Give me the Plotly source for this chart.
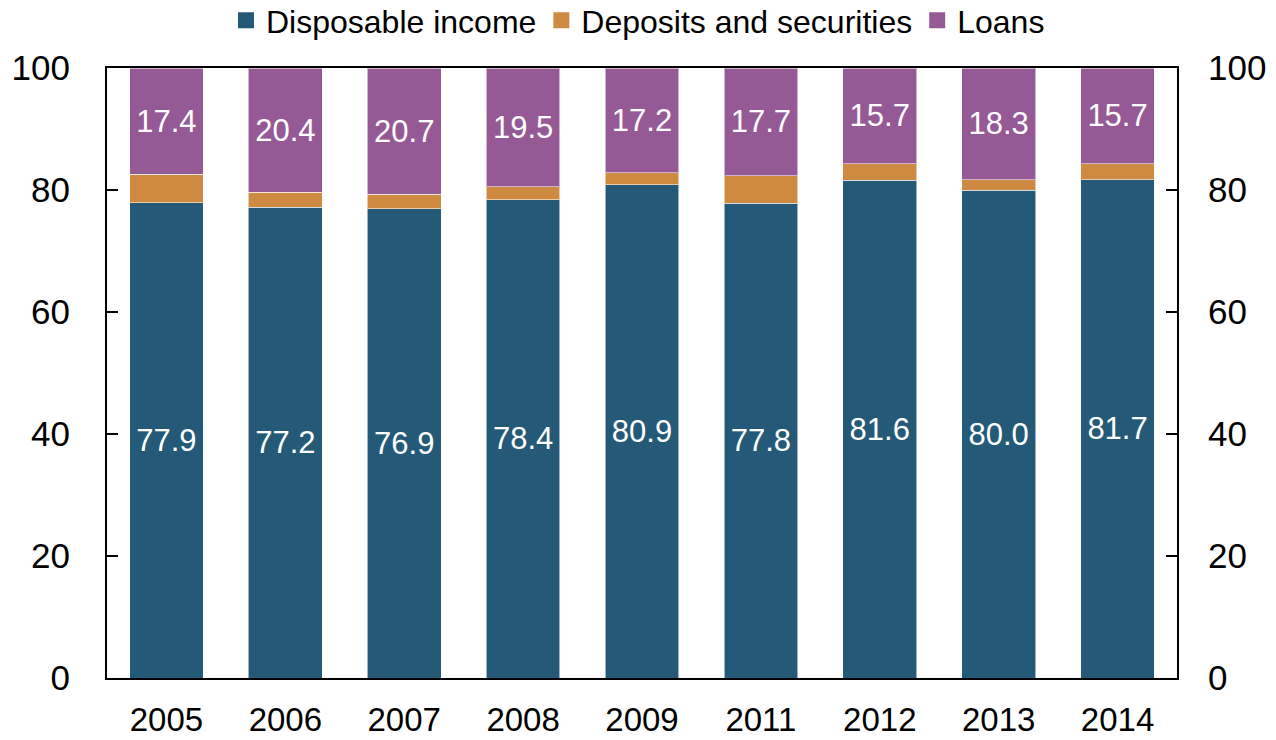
import plotly.graph_objects as go

years = ["2005", "2006", "2007", "2008", "2009", "2011", "2012", "2013", "2014"]
disposable_income = [77.9, 77.2, 76.9, 78.4, 80.9, 77.8, 81.6, 80.0, 81.7]
deposits_securities = [4.7, 2.4, 2.4, 2.1, 1.9, 4.5, 2.7, 1.7, 2.6]
loans = [17.4, 20.4, 20.7, 19.5, 17.2, 17.7, 15.7, 18.3, 15.7]
y_ticks = [0, 20, 40, 60, 80, 100]

FONT = "Liberation Sans, Arial, sans-serif"
C_INCOME = "#245a78"
C_DEPOSITS = "#cf8a42"
C_LOANS = "#955a96"
EDGE = dict(color="rgba(255,255,255,0.55)", width=1)
LABEL_FONT = dict(family=FONT, size=31, color="white")

series = [
    ("Disposable income", disposable_income, C_INCOME, True),
    ("Deposits and securities", deposits_securities, C_DEPOSITS, False),
    ("Loans", loans, C_LOANS, True),
]

fig = go.Figure()
for name, values, color, labelled in series:
    fig.add_trace(go.Bar(
        x=years, y=values, name=name, showlegend=False,
        marker=dict(color=color, line=EDGE),
        text=[f"{v:.1f}" for v in values] if labelled else None,
        textposition="inside", insidetextanchor="middle",
        textfont=LABEL_FONT, hoverinfo="skip",
    ))
# square legend keys (points sit below the visible range)
for name, values, color, _ in series:
    fig.add_trace(go.Scatter(
        x=[years[0]], y=[-50], name=name, mode="markers",
        marker=dict(symbol="square", size=18, color=color),
        cliponaxis=True, hoverinfo="skip",
    ))
# invisible companion trace so the right-hand axis is drawn
fig.add_trace(go.Scatter(
    x=years, y=[None] * len(years), yaxis="y2", showlegend=False,
    mode="markers", hoverinfo="skip",
))

axis_font = dict(family=FONT, size=35, color="black")
fig.update_layout(
    barmode="stack",
    bargap=0.38,
    width=1276, height=740,
    margin=dict(l=107, r=99, t=68, b=62, autoexpand=False),
    paper_bgcolor="white", plot_bgcolor="white",
    font=dict(family=FONT, color="black"),
    showlegend=True,
    legend=dict(
        orientation="h", x=0.5, xanchor="center", xref="container",
        y=1.123, yanchor="top", yref="paper",
        font=dict(family=FONT, size=32, color="black"),
        itemwidth=30, tracegroupgap=0, traceorder="normal",
    ),
    xaxis=dict(
        type="category", range=[-0.5, 8.5], showgrid=False, ticks="",
        showline=True, linecolor="black", linewidth=2, mirror=True,
        tickfont=dict(family=FONT, size=33, color="black"),
        ticklabelstandoff=11,
    ),
    yaxis=dict(
        range=[0, 100], tickvals=y_ticks, showgrid=False, zeroline=False,
        showline=True, linecolor="black", linewidth=2, mirror=True,
        ticks="inside", ticklen=11, tickwidth=1.5, tickcolor="black",
        tickfont=axis_font, ticklabelstandoff=28,
    ),
    yaxis2=dict(
        range=[0, 100], tickvals=y_ticks, overlaying="y", side="right",
        showgrid=False, zeroline=False, showline=False,
        ticks="inside", ticklen=11, tickwidth=1.5, tickcolor="black",
        tickfont=axis_font, ticklabelstandoff=30,
    ),
)

fig.write_html("out.html")
